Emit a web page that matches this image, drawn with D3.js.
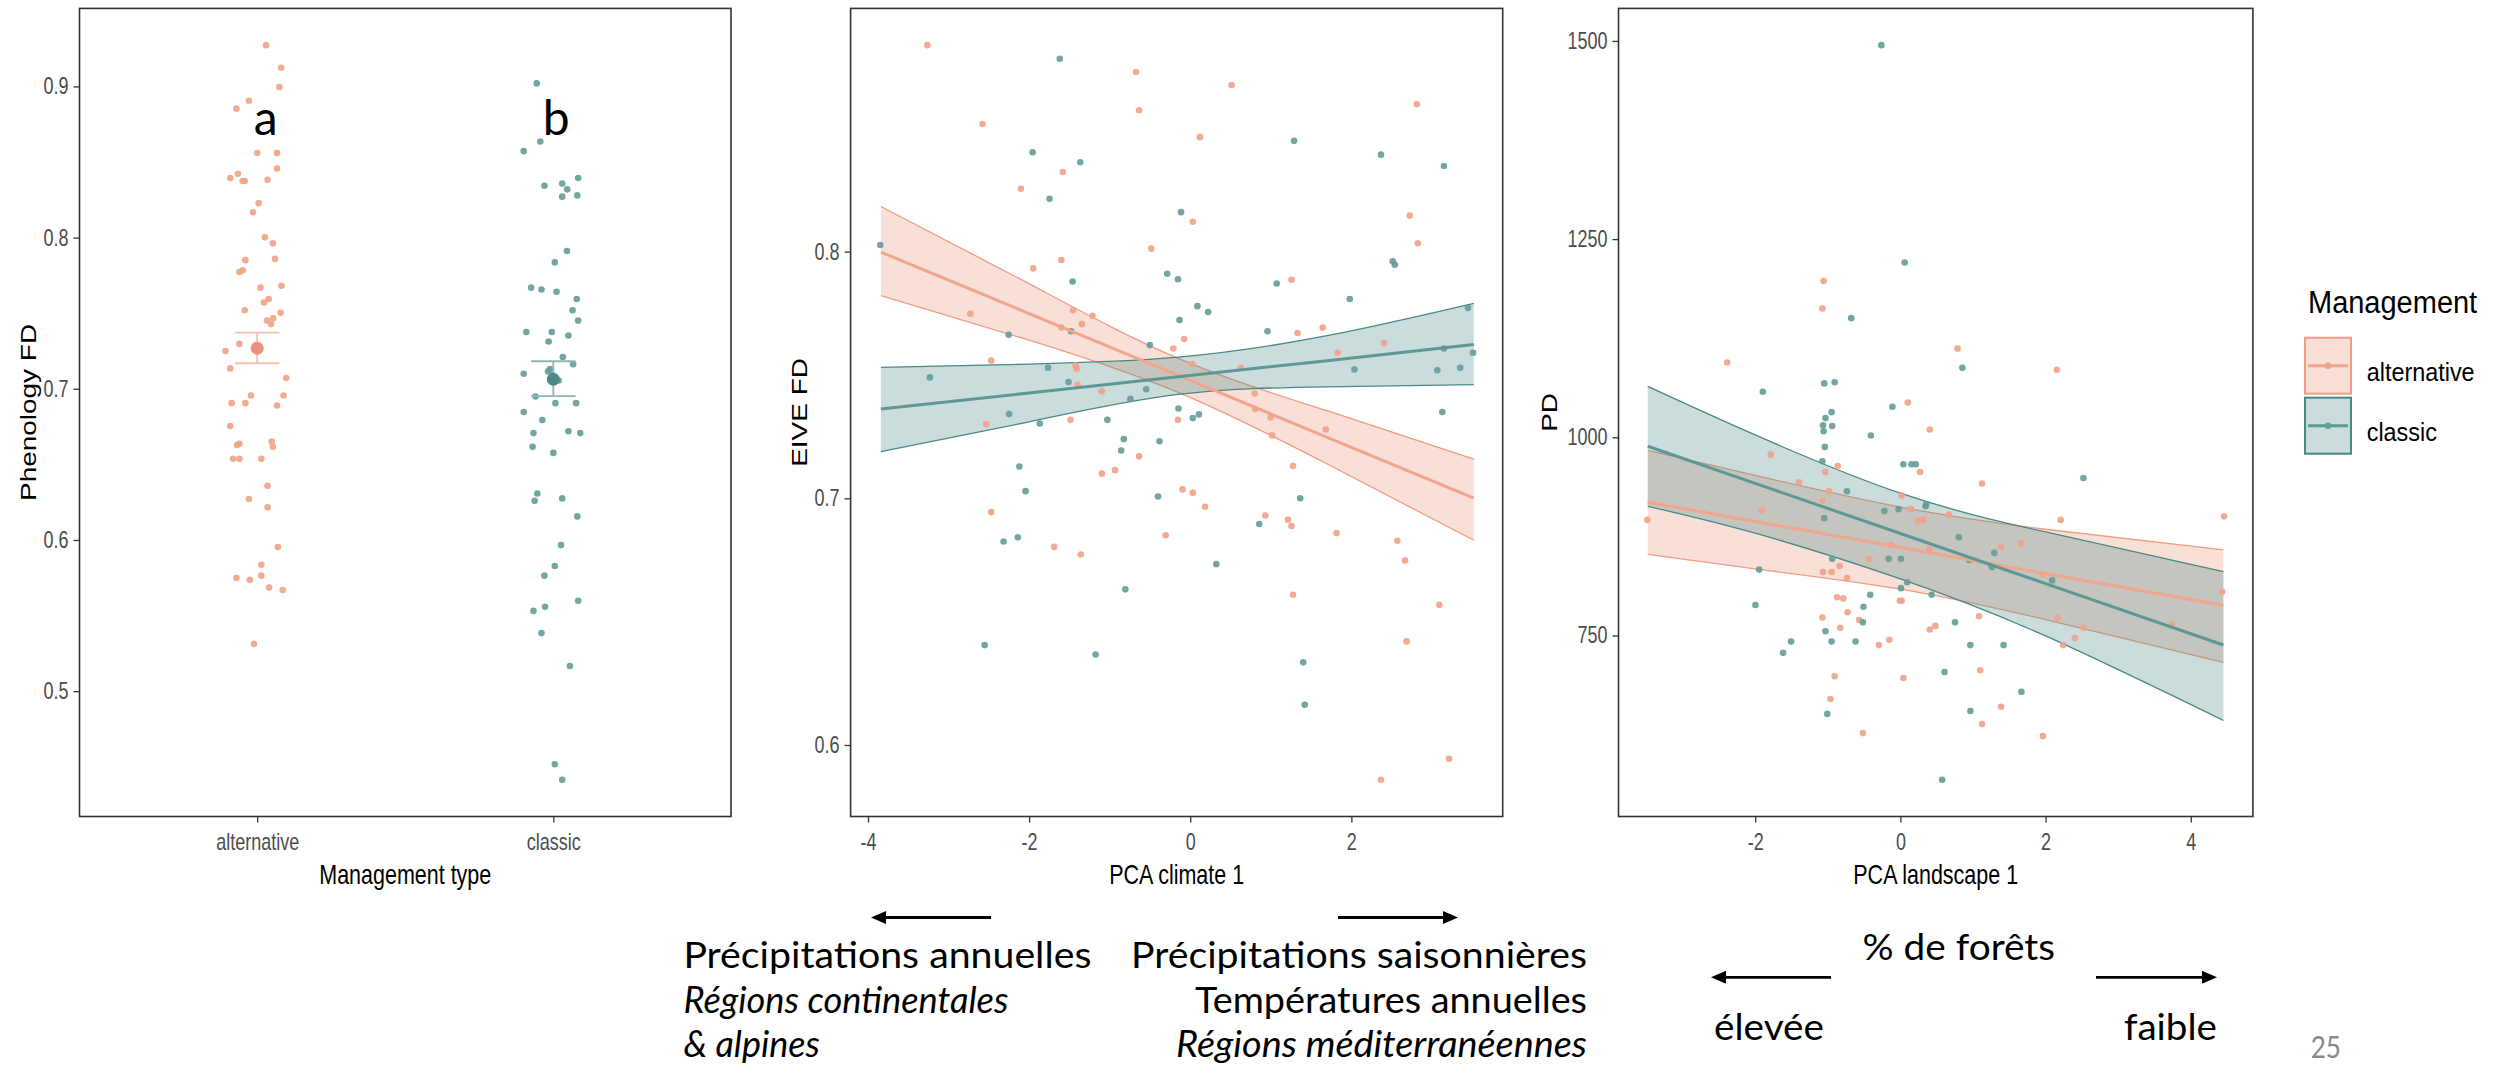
<!DOCTYPE html>
<html><head><meta charset="utf-8">
<script src="https://cdn.jsdelivr.net/npm/d3@7"></script>
<style>html,body{margin:0;padding:0;background:#fff;}svg{display:block}</style>
</head><body>
<svg id="c" width="2502" height="1073"></svg>
<script>
// ---------------- DATA ----------------
const mgmtTypes = ["alternative", "classic"];

// Panel 1: Phenology FD  [jitter (category units), value]
const phenoAlternative = [
 [0.030,0.9273],[0.081,0.9123],[0.075,0.8996],[-0.070,0.8853],[-0.028,0.8905],[0.0,0.8560],[0.067,0.8560],
 [-0.091,0.8394],[-0.065,0.8422],[-0.049,0.8374],[-0.042,0.8374],[0.035,0.8382],[0.067,0.8457],[0.005,0.8228],
 [-0.014,0.8168],[0.026,0.8002],[0.053,0.7962],[0.060,0.7859],[-0.040,0.7851],[-0.060,0.7772],[-0.049,0.7784],
 [0.011,0.7669],[0.082,0.7681],[0.039,0.7594],[0.023,0.7570],[-0.042,0.7519],[0.079,0.7503],[0.054,0.7467],
 [0.033,0.7451],[0.047,0.7428],[-0.107,0.7250],[-0.060,0.7297],[-0.091,0.7135],[0.098,0.7071],[-0.021,0.6956],
 [0.089,0.6956],[-0.086,0.6905],[-0.040,0.6905],[0.067,0.6889],[-0.091,0.6754],[-0.060,0.6636],[-0.068,0.6628],
 [-0.081,0.6537],[-0.060,0.6537],[0.049,0.6651],[0.053,0.6616],[0.014,0.6537],[0.035,0.6358],[-0.028,0.6271],
 [0.035,0.6216],[0.070,0.5954],[0.014,0.5836],[0.014,0.5764],[-0.070,0.5749],[-0.025,0.5737],[0.040,0.5685],
 [0.086,0.5669],[-0.011,0.5313]
];
const phenoClassic = [
 [-0.056,0.9020],[-0.044,0.8636],[-0.100,0.8572],[-0.030,0.8343],[0.030,0.8358],[0.047,0.8319],[0.084,0.8394],
 [0.030,0.8271],[0.081,0.8279],[0.046,0.7911],[0.005,0.7836],[-0.075,0.7669],[-0.040,0.7657],[0.011,0.7642],
 [0.079,0.7594],[0.065,0.7519],[0.084,0.7451],[-0.091,0.7376],[-0.005,0.7376],[-0.016,0.7313],[0.051,0.7352],
 [0.032,0.7210],[0.067,0.7162],[-0.100,0.7099],[-0.018,0.7115],[-0.011,0.7131],[-0.060,0.6949],[0.007,0.6905],
 [0.077,0.6905],[-0.100,0.6846],[-0.037,0.6794],[-0.067,0.6707],[0.051,0.6719],[0.091,0.6707],[-0.070,0.6616],
 [0.0,0.6576],[-0.054,0.6307],[-0.063,0.6259],[0.030,0.6275],[0.081,0.6156],[0.026,0.5966],[0.005,0.5828],
 [-0.030,0.5764],[0.084,0.5598],[-0.028,0.5558],[-0.067,0.5531],[-0.040,0.5384],[0.056,0.5166],[0.005,0.4517],
 [0.030,0.4414],[-0.005,0.7091],[0.018,0.7055]
];
const phenoMean  = [0.7268, 0.7063];
const phenoLower = [0.7169, 0.6951];
const phenoUpper = [0.7371, 0.7182];
const phenoLetters = ["a", "b"];
const phenoYTicks = [0.5, 0.6, 0.7, 0.8, 0.9];

// Panel 2: EIVE FD vs PCA climate 1  [x, y]
const climateAlternative = [
 [-3.263,0.8837],[-0.673,0.8728],[0.514,0.8675],[-2.578,0.8517],[-0.635,0.8573],[2.813,0.8597],[0.121,0.8464],
 [-1.581,0.8323],[-2.102,0.8255],[0.032,0.8121],[2.724,0.8146],[-0.483,0.8012],[2.825,0.8034],[-1.949,0.7932],
 [-1.600,0.7966],[1.257,0.7886],[-2.730,0.7748],[-1.454,0.7762],[-1.213,0.7740],[-1.346,0.7706],[-1.600,0.7692],
 [1.333,0.7670],[1.644,0.7692],[-0.076,0.7646],[-0.210,0.7607],[2.406,0.7629],[1.829,0.7590],[-2.470,0.7558],
 [-1.422,0.7539],[-1.410,0.7524],[0.025,0.7544],[0.629,0.7529],[-1.397,0.7459],[-1.098,0.7434],[0.800,0.7425],
 [0.806,0.7362],[0.997,0.7328],[-0.152,0.7318],[-2.533,0.7301],[-1.486,0.7318],[1.683,0.7279],[1.016,0.7255],
 [-0.635,0.7170],[1.276,0.7131],[-1.098,0.7100],[-0.933,0.7114],[-0.095,0.7036],[0.032,0.7022],[0.184,0.6966],
 [-2.470,0.6944],[0.933,0.6930],[1.213,0.6913],[1.257,0.6888],[1.816,0.6859],[-0.305,0.6850],[-1.689,0.6803],
 [-1.359,0.6772],[2.571,0.6828],[2.667,0.6748],[1.276,0.6609],[3.092,0.6568],[2.686,0.6420],[3.213,0.5944],
 [2.368,0.5859]
];
const climateClassic = [
 [-3.848,0.8027],[-1.619,0.8782],[1.289,0.8449],[-1.956,0.8403],[-1.365,0.8362],[2.368,0.8393],[3.149,0.8347],
 [-1.746,0.8214],[-0.114,0.8160],[-1.460,0.7879],[-0.286,0.7910],[-0.152,0.7888],[1.073,0.7871],[1.981,0.7808],
 [0.089,0.7779],[0.222,0.7755],[-0.133,0.7723],[-2.254,0.7663],[-1.479,0.7677],[0.959,0.7677],[3.448,0.7772],
 [-0.502,0.7621],[3.149,0.7607],[3.511,0.7590],[-3.232,0.7490],[-1.765,0.7529],[2.038,0.7522],[3.067,0.7519],
 [3.352,0.7529],[-1.511,0.7471],[-0.546,0.7442],[-0.743,0.7403],[-0.146,0.7364],[-2.248,0.7342],[-1.867,0.7303],
 [-1.029,0.7318],[0.032,0.7325],[0.108,0.7340],[3.130,0.7350],[-0.381,0.7231],[-0.825,0.7240],[-0.857,0.7194],
 [-2.121,0.7129],[-2.044,0.7029],[-0.400,0.7007],[1.365,0.7000],[-2.317,0.6825],[-2.140,0.6842],[0.857,0.6896],
 [0.324,0.6733],[-0.806,0.6631],[-2.552,0.6405],[-1.175,0.6367],[1.403,0.6335],[1.422,0.6163],[2.514,0.7961],
 [2.540,0.7947]
];
const climateBandX       = [-3.84, -2.0, -0.15, 1.7, 3.52];
const climateAltFit      = [0.7998, 0.7749, 0.7498, 0.7247, 0.7001];
const climateAltLower    = [0.7822, 0.7641, 0.7429, 0.7139, 0.6830];
const climateAltUpper    = [0.8183, 0.7870, 0.7567, 0.7355, 0.7159];
const climateClassicFit  = [0.7362, 0.7427, 0.7493, 0.7558, 0.7623];
const climateClassicLower= [0.7189, 0.7310, 0.7421, 0.7452, 0.7461];
const climateClassicUpper= [0.7531, 0.7544, 0.7572, 0.7659, 0.7790];
const climateXTicks = [-4, -2, 0, 2];
const climateYTicks = [0.6, 0.7, 0.8];

// Panel 3: PD vs PCA landscape 1  [x, y]
const landAlternative = [
 [-3.486,895.8],[-2.386,1094.4],[-1.785,978.1],[-1.912,907.9],[-1.396,943.3],[-1.058,1197.1],[-1.074,1162.4],
 [-1.032,956.2],[-1.074,919.9],[-0.981,932.0],[-0.863,963.7],[-1.066,830.0],[-0.948,830.0],[-0.838,837.6],
 [-0.736,822.5],[-0.787,796.8],[-0.728,779.4],[-0.829,759.8],[-0.567,769.6],[-1.074,772.6],[-0.964,669.9],
 [-0.905,698.6],[-0.516,626.9],[-0.296,737.9],[-0.152,744.7],[-0.431,846.7],[-0.127,864.0],[0.017,926.7],
 [-0.008,793.8],[0.017,793.8],[0.102,1043.8],[0.144,909.4],[0.245,894.2],[0.271,956.2],[0.313,895.8],
 [0.406,1009.8],[0.668,902.6],[0.398,858.7],[0.787,1111.8],[0.406,757.5],[0.482,762.1],[0.042,696.4],
 [1.083,774.2],[1.100,706.2],[1.125,638.2],[1.125,941.8],[1.387,861.8],[1.658,866.3],[1.387,660.1],
 [1.963,827.0],[2.157,1085.3],[2.208,895.8],[2.166,771.9],[2.242,737.9],[2.403,746.9],[2.521,759.8],
 [1.963,623.1],[3.739,764.3],[4.459,900.3],[4.433,805.1],[-0.871,798.3]
];
const landClassic = [
 [-0.262,1494.7],[0.059,1220.5],[-0.677,1150.3],[0.854,1087.6],[-0.110,1038.5],[-1.895,1057.4],[-1.049,1068.0],
 [-0.905,1069.5],[-0.948,1031.7],[-1.032,1024.2],[-1.066,1015.1],[-1.058,1007.6],[-1.041,987.9],[-1.074,969.8],
 [-0.939,1014.3],[-0.406,1002.3],[0.042,966.0],[0.152,966.0],[0.212,966.0],[-1.946,833.1],[-1.997,788.5],
 [-1.616,728.1],[-1.506,742.4],[-1.049,898.0],[-0.939,846.7],[-0.736,932.0],[-0.220,907.1],[-0.025,909.4],
 [0.355,915.4],[0.347,913.1],[-0.161,846.7],[0.008,846.7],[-0.415,801.3],[-0.508,786.3],[-0.516,766.6],
 [-0.618,742.4],[-1.032,755.3],[-0.948,742.4],[-1.007,651.1],[0.093,817.2],[0.008,809.7],[0.431,801.3],
 [0.753,766.6],[0.964,737.9],[0.609,703.9],[0.964,654.8],[0.804,873.9],[0.948,845.2],[1.261,836.1],
 [1.294,854.2],[1.421,737.9],[1.667,679.0],[2.090,819.5],[2.521,948.6],[0.575,568.0]
];
const landBandX        = [-3.48, -2.0, 0.0, 2.0, 4.45];
const landAltFit       = [918.2, 893.9, 861.0, 828.2, 787.9];
const landAltLower     = [852.2, 834.0, 808.5, 770.0, 716.0];
const landAltUpper     = [983.5, 952.0, 912.0, 884.0, 857.9];
const landClassicFit   = [988.7, 941.9, 878.7, 815.5, 738.0];
const landClassicLower = [913.0, 879.0, 821.4, 749.4, 642.8];
const landClassicUpper = [1064.3, 1003.0, 929.5, 880.6, 830.7];
const landXTicks = [-2, 0, 2, 4];
const landYTicks = [750, 1000, 1250, 1500];

// ---------------- STYLE ----------------
const GG = "'Liberation Sans', Arial, sans-serif";
const PP = "Lato, 'Open Sans', sans-serif";
const COL = { alternative: "#E9967A", classic: "#4E8B87" };
const PT  = { alternative: "#EFA287", classic: "#649C98" };
const EDGE= { alternative: "#EF9C82", classic: "#4A8884" };
const FITC= { alternative: "#F0A58C", classic: "#5E9894" };
const SY = 1.3;   // vertical stretch of the pasted ggplot images
const TOP = 8.4, BOT = 816.5;

const svg = d3.select("#c");
svg.append("rect").attr("width", 2502).attr("height", 1073).attr("fill", "#fff");

function expand(vals) {
  const [a, b] = d3.extent(vals); const r = b - a;
  return [a - 0.05 * r, b + 0.05 * r];
}
function styleAxis(g, kind) {
  g.select(".domain").remove();
  g.selectAll(".tick line").attr("stroke", "#333").attr("stroke-width", 1.3);
  g.selectAll(".tick text").attr("fill", "#4D4D4D").attr("font-family", GG).attr("font-size", 18);
  if (kind === "x") {
    g.selectAll(".tick text").attr("y", 0).attr("dy", 0)
      .attr("transform", `translate(0,${850 - BOT}) scale(1,${SY})`);
  } else {
    g.selectAll(".tick text").attr("transform", `scale(1,${SY})`);
  }
}
function ggLabel(x, y, str, opt = {}) {
  const t = svg.append("text").attr("font-family", GG).attr("font-size", opt.size || 21.5)
    .attr("fill", opt.fill || "#000").attr("text-anchor", "middle").text(str);
  if (opt.rotate) t.attr("transform", `translate(${x},${y}) scale(1,${SY}) rotate(-90)`);
  else t.attr("transform", `translate(${x},${y}) scale(1,${opt.sy || SY})`);
  return t;
}
function panelFrame(x0, x1) {
  svg.append("rect").attr("x", x0).attr("y", TOP).attr("width", x1 - x0).attr("height", BOT - TOP)
    .attr("fill", "none").attr("stroke", "#333").attr("stroke-width", 1.6);
}

// ---------------- PANEL 1 ----------------
(function () {
  const x0 = 79.5, x1 = 731;
  const xc = d3.scalePoint().domain(mgmtTypes).range([x0, x1]).padding(0.6);
  const allV = phenoAlternative.map(d => d[1]).concat(phenoClassic.map(d => d[1]));
  const y = d3.scaleLinear().domain(expand(allV)).range([BOT, TOP]);
  const g = svg.append("g");
  [["alternative", phenoAlternative], ["classic", phenoClassic]].forEach(([k, arr]) => {
    g.selectAll(null).data(arr).enter().append("circle")
      .attr("cx", d => xc(k) + d[0] * xc.step()).attr("cy", d => y(d[1]))
      .attr("r", 3.3).attr("fill", PT[k]).attr("fill-opacity", 0.9);
  });
  const ebC = { alternative: "#F5C1AE", classic: "#8CB6B3" };
  const meanC = { alternative: "#E8937A", classic: "#4D8984" };
  mgmtTypes.forEach((k, i) => {
    const cx = xc(k), hw = 0.075 * xc.step();
    const eb = g.append("g").attr("stroke", ebC[k]).attr("stroke-width", 1.8);
    eb.append("line").attr("x1", cx - hw).attr("x2", cx + hw).attr("y1", y(phenoUpper[i])).attr("y2", y(phenoUpper[i]));
    eb.append("line").attr("x1", cx - hw).attr("x2", cx + hw).attr("y1", y(phenoLower[i])).attr("y2", y(phenoLower[i]));
    eb.append("line").attr("x1", cx).attr("x2", cx).attr("y1", y(phenoUpper[i])).attr("y2", y(phenoLower[i]));
    g.append("circle").attr("cx", cx).attr("cy", y(phenoMean[i])).attr("r", 6.5).attr("fill", meanC[k]);
    svg.append("text").attr("x", cx + (i === 0 ? 8.5 : 3)).attr("y", 135).attr("text-anchor", "middle")
      .attr("font-family", PP).attr("font-size", 48).attr("fill", "#000").text(phenoLetters[i]);
  });
  panelFrame(x0, x1);
  const ay = svg.append("g").attr("transform", `translate(${x0},0)`)
    .call(d3.axisLeft(y).tickValues(phenoYTicks).tickFormat(d3.format(".1f")).tickSize(6).tickPadding(5));
  styleAxis(ay, "y");
  const ax = svg.append("g").attr("transform", `translate(0,${BOT})`)
    .call(d3.axisBottom(xc).tickSize(6));
  styleAxis(ax, "x");
  ggLabel((x0 + x1) / 2, 884, "Management type");
  ggLabel(36, (TOP + BOT) / 2, "Phenology FD", { rotate: true });
})();

// ---------------- regression panel helper ----------------
function regPanel(cfg) {
  const { x0, x1, ptsA, ptsC, bandX, fitA, loA, hiA, fitC, loC, hiC, xTicks, yTicks, yFmt } = cfg;
  const allX = ptsA.map(d => d[0]).concat(ptsC.map(d => d[0]));
  const allY = ptsA.map(d => d[1]).concat(ptsC.map(d => d[1]));
  const x = d3.scaleLinear().domain(expand(allX)).range([x0, x1]);
  const y = d3.scaleLinear().domain(expand(allY)).range([BOT, TOP]);
  const g = svg.append("g");
  const series = [
    ["alternative", ptsA, fitA, loA, hiA],
    ["classic", ptsC, fitC, loC, hiC]
  ];
  const area = d3.area().x(d => x(d.x)).y0(d => y(d.lo)).y1(d => y(d.hi)).curve(d3.curveNatural);
  const edge = (key) => d3.line().x(d => x(d.x)).y(d => y(d[key])).curve(d3.curveNatural);
  const fitLine = d3.line().x(d => x(d.x)).y(d => y(d.fit));
  series.forEach(([k, pts, fit, lo, hi]) => {
    const rows = bandX.map((bx, i) => ({ x: bx, fit: fit[i], lo: lo[i], hi: hi[i] }));
    g.append("path").datum(rows).attr("d", area).attr("fill", COL[k]).attr("fill-opacity", 0.3);
    g.append("path").datum(rows).attr("d", edge("lo")).attr("fill", "none").attr("stroke", EDGE[k]).attr("stroke-width", 1.3);
    g.append("path").datum(rows).attr("d", edge("hi")).attr("fill", "none").attr("stroke", EDGE[k]).attr("stroke-width", 1.3);
  });
  series.forEach(([k, pts]) => {
    g.selectAll(null).data(pts).enter().append("circle")
      .attr("cx", d => x(d[0])).attr("cy", d => y(d[1])).attr("r", 3.3)
      .attr("fill", PT[k]).attr("fill-opacity", 0.9);
  });
  series.forEach(([k, pts, fit]) => {
    const rows = bandX.map((bx, i) => ({ x: bx, fit: fit[i] }));
    g.append("path").datum(rows).attr("d", fitLine).attr("fill", "none")
      .attr("stroke", FITC[k]).attr("stroke-width", 3);
  });
  panelFrame(x0, x1);
  const ay = svg.append("g").attr("transform", `translate(${x0},0)`)
    .call(d3.axisLeft(y).tickValues(yTicks).tickFormat(yFmt).tickSize(6).tickPadding(5));
  styleAxis(ay, "y");
  const ax = svg.append("g").attr("transform", `translate(0,${BOT})`)
    .call(d3.axisBottom(x).tickValues(xTicks).tickFormat(d => String(d)).tickSize(6));
  styleAxis(ax, "x");
  ggLabel((x0 + x1) / 2, 884, cfg.xTitle);
  ggLabel(cfg.yTitleX, (TOP + BOT) / 2, cfg.yTitle, { rotate: true });
}

regPanel({
  x0: 850.6, x1: 1502.7, ptsA: climateAlternative, ptsC: climateClassic,
  bandX: climateBandX, fitA: climateAltFit, loA: climateAltLower, hiA: climateAltUpper,
  fitC: climateClassicFit, loC: climateClassicLower, hiC: climateClassicUpper,
  xTicks: climateXTicks, yTicks: climateYTicks, yFmt: d3.format(".1f"),
  xTitle: "PCA climate 1", yTitle: "EIVE FD", yTitleX: 807
});
regPanel({
  x0: 1618.5, x1: 2252.9, ptsA: landAlternative, ptsC: landClassic,
  bandX: landBandX, fitA: landAltFit, loA: landAltLower, hiA: landAltUpper,
  fitC: landClassicFit, loC: landClassicLower, hiC: landClassicUpper,
  xTicks: landXTicks, yTicks: landYTicks, yFmt: d3.format("d"),
  xTitle: "PCA landscape 1", yTitle: "PD", yTitleX: 1557
});

// ---------------- LEGEND ----------------
(function () {
  svg.append("text").attr("x", 2308).attr("y", 0).attr("font-family", GG).attr("font-size", 29)
    .attr("transform", "translate(0,313) scale(1,1.05)").text("Management");
  const keyY = [337.7, 397.7];
  mgmtTypes.forEach((k, i) => {
    const ky = keyY[i];
    svg.append("rect").attr("x", 2305).attr("y", ky).attr("width", 46).attr("height", 56)
      .attr("fill", COL[k]).attr("fill-opacity", 0.3).attr("stroke", EDGE[k]).attr("stroke-width", 2);
    svg.append("line").attr("x1", 2308).attr("x2", 2348).attr("y1", ky + 28).attr("y2", ky + 28)
      .attr("stroke", FITC[k]).attr("stroke-width", 3);
    svg.append("circle").attr("cx", 2328).attr("cy", ky + 28).attr("r", 3.3).attr("fill", PT[k]);
    svg.append("text").attr("x", 2366.7).attr("y", 0).attr("font-family", GG).attr("font-size", 23.4)
      .attr("transform", `translate(0,${ky + 43.5}) scale(1,1.12)`).text(k);
  });
})();

// ---------------- SLIDE ANNOTATIONS ----------------
const annotations = [
  { t: "Précipitations annuelles", x: 683.4, y: 968, w: 408, a: "start" },
  { t: "Régions continentales", x: 683.4, y: 1013, w: 325, a: "start", i: true },
  { t: "& alpines", x: 683.4, y: 1057, w: 136.4, a: "start", i: true },
  { t: "Précipitations saisonnières", x: 1587, y: 968, w: 456, a: "end" },
  { t: "Températures annuelles", x: 1587, y: 1013, w: 392, a: "end" },
  { t: "Régions méditerranéennes", x: 1587, y: 1057, w: 411, a: "end", i: true },
  { t: "% de forêts", x: 1862.6, y: 960, w: 192.4, a: "start" },
  { t: "élevée", x: 1714, y: 1040, w: 110, a: "start" },
  { t: "faible", x: 2124, y: 1040, w: 93, a: "start" }
];
annotations.forEach(d => {
  svg.append("text").attr("x", d.x).attr("y", d.y).attr("text-anchor", d.a)
    .attr("font-family", PP).attr("font-size", 37.3).attr("font-style", d.i ? "italic" : "normal")
    .attr("fill", "#000").attr("textLength", d.w).attr("lengthAdjust", "spacingAndGlyphs").text(d.t);
});
svg.append("text").attr("x", 2310.7).attr("y", 1058).attr("font-family", PP).attr("font-size", 30)
  .attr("fill", "#898989").attr("textLength", 30.3).attr("lengthAdjust", "spacingAndGlyphs").text("25");

const arrows = [
  { from: 991, to: 871, y: 917.5 }, { from: 1338, to: 1458, y: 917.5 },
  { from: 1831, to: 1711, y: 977.3 }, { from: 2096, to: 2217, y: 977.3 }
];
arrows.forEach(a => {
  const dir = Math.sign(a.to - a.from), head = 15;
  svg.append("line").attr("x1", a.from).attr("x2", a.to - dir * head * 0.8).attr("y1", a.y).attr("y2", a.y)
    .attr("stroke", "#000").attr("stroke-width", 2.8);
  svg.append("path").attr("d", `M${a.to},${a.y} L${a.to - dir * head},${a.y - 6.5} L${a.to - dir * head},${a.y + 6.5} Z`)
    .attr("fill", "#000");
});
</script>
</body></html>
